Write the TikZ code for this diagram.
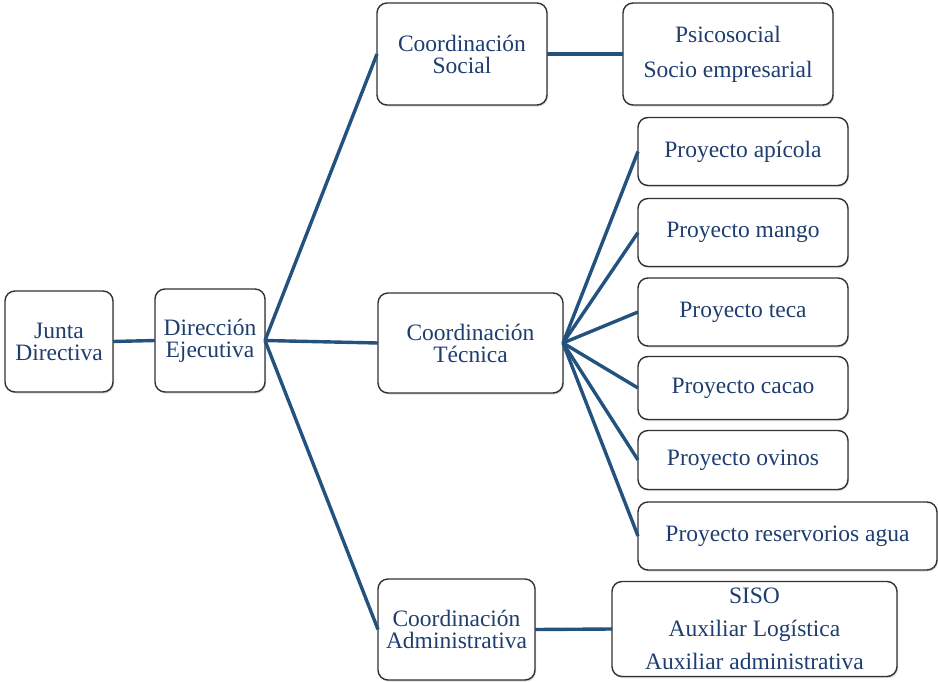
\documentclass[tikz,border=0pt]{standalone}
\usepackage{fontspec}
\setmainfont{Liberation Serif}
\usetikzlibrary{shadows}
\definecolor{txtblue}{RGB}{31,62,112}
\definecolor{lineblue}{RGB}{36,82,127}
\definecolor{boxborder}{RGB}{50,50,50}
\tikzset{
  box/.style={draw=boxborder, line width=1.4pt, rounded corners=10pt, fill=white,
    inner sep=0pt, outer sep=0pt, align=center, text=txtblue,
    font=\fontsize{23.5}{22}\selectfont,
    drop shadow={shadow xshift=1pt, shadow yshift=-1.5pt, fill=black!30, opacity=0.5}},
  conn/.style={draw=lineblue, line width=3.4pt}
}
\begin{document}
\begin{tikzpicture}[x=1pt,y=-1pt]
\useasboundingbox (0,0) rectangle (938,681);
\node[box, minimum width=108pt, minimum height=101pt] (jd) at (59,341.5) {Junta\\Directiva};
\node[box, minimum width=110pt, minimum height=103pt] (de) at (210,340.5) {Dirección\\Ejecutiva};
\node[box, minimum width=170pt, minimum height=102pt] (cs) at (462,54) {Coordinación\\Social};
\node[box, minimum width=210pt, minimum height=102pt, font=\fontsize{23.5}{35}\selectfont] (ps) at (728,54) {Psicosocial\\Socio empresarial};
\node[box, minimum width=185pt, minimum height=100pt] (ct) at (470.5,343) {Coordinación\\Técnica};
\node[box, minimum width=157pt, minimum height=101pt] (ca) at (456.5,629.5) {Coordinación\\Administrativa};
\node[box, minimum width=285pt, minimum height=95pt, font=\fontsize{23.5}{33}\selectfont] (si) at (754.5,629) {SISO\\Auxiliar Logística\\Auxiliar administrativa};
\node[box, minimum width=210pt, minimum height=68pt] (p1) at (743,151.5) {Proyecto apícola};
\node[box, minimum width=210pt, minimum height=68pt] (p2) at (743,232.5) {Proyecto mango};
\node[box, minimum width=210pt, minimum height=68pt] (p3) at (743,312) {Proyecto teca};
\node[box, minimum width=210pt, minimum height=63pt] (p4) at (743,388) {Proyecto cacao};
\node[box, minimum width=210pt, minimum height=59pt] (p5) at (743,460) {Proyecto ovinos};
\node[box, minimum width=299pt, minimum height=68pt] (p6) at (787.5,536) {Proyecto reservorios agua};
\path[conn] (jd.east) -- (de.west);
\path[conn] (de.east) -- (cs.west);
\path[conn] (de.east) -- (ct.west);
\path[conn] (de.east) -- (ca.west);
\path[conn] (cs.east) -- (ps.west);
\path[conn] (ca.east) -- (si.west);
\foreach \p in {p1,p2,p3,p4,p5,p6} { \path[conn] (ct.east) -- (\p.west); }
\end{tikzpicture}
\end{document}
